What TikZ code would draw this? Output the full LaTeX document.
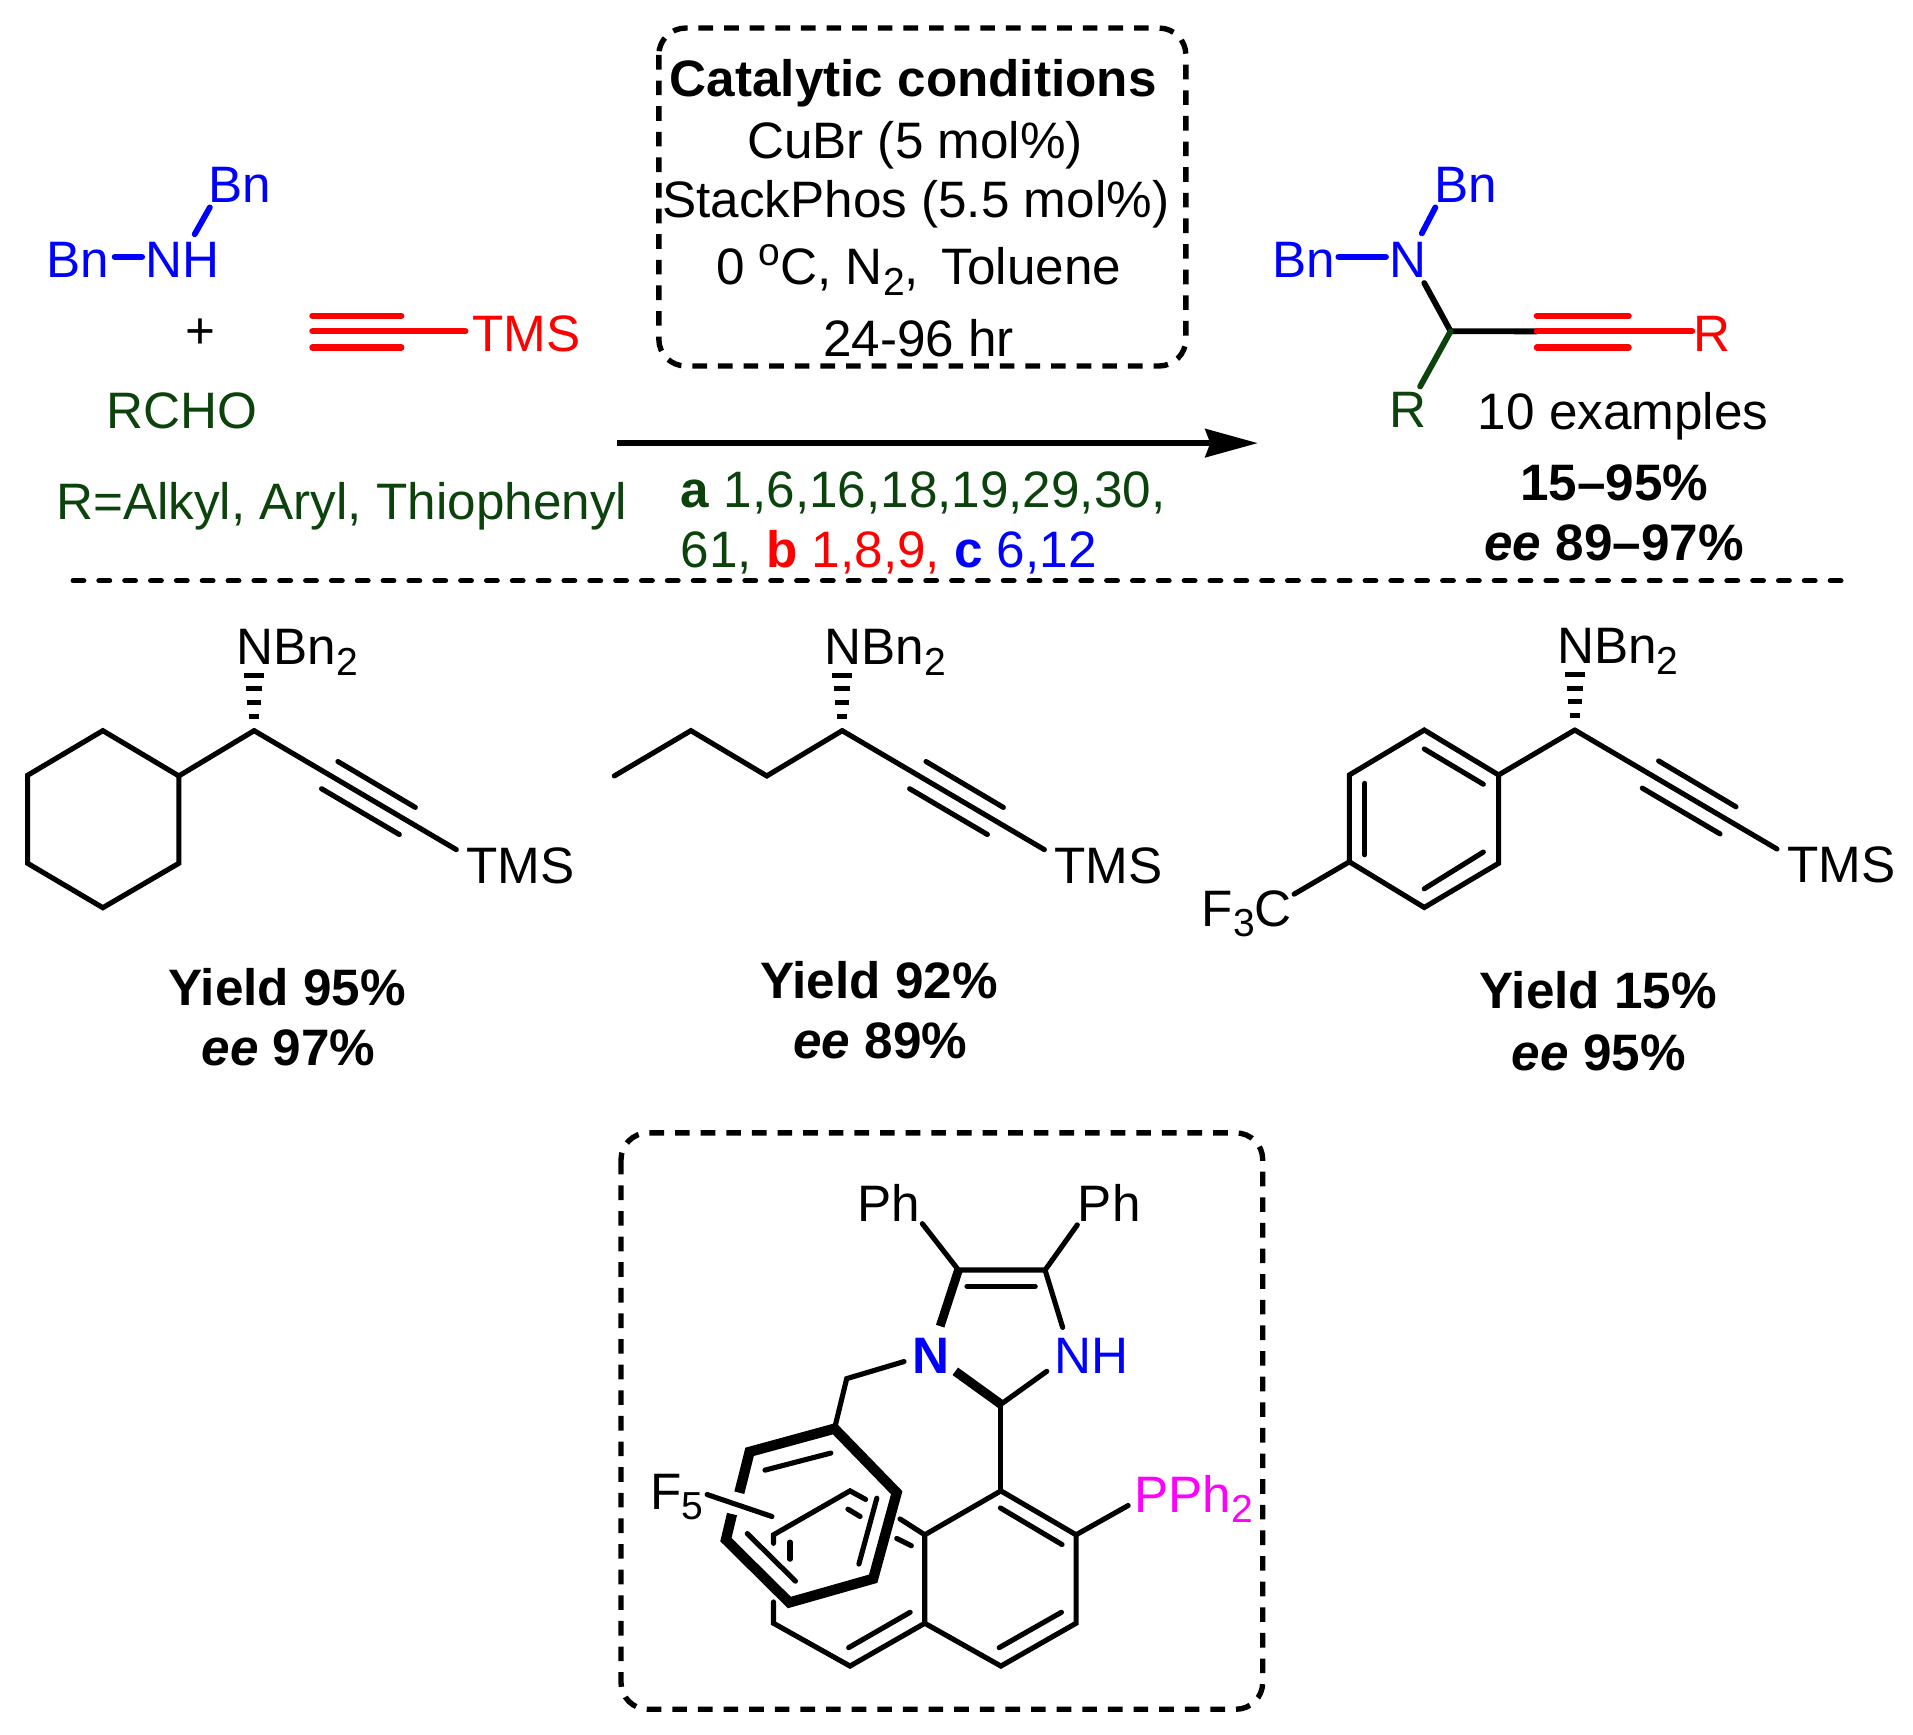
\documentclass[tikz,border=0pt]{standalone}
\usepackage{fontspec}
\setmainfont{Liberation Sans}
\usetikzlibrary{arrows.meta}
\definecolor{dgreen}{RGB}{12,66,12}
\definecolor{pblue}{RGB}{0,0,255}
\definecolor{pred}{RGB}{255,0,0}
\definecolor{pmag}{RGB}{255,0,255}
\newcommand{\subs}[1]{\raisebox{-0.21em}{\fontsize{16}{18}\selectfont #1}}
\newcommand{\supo}[1]{\raisebox{0.38em}{\fontsize{16}{18}\selectfont #1}}
\tikzset{
  txt/.style={inner sep=0pt,outer sep=0pt,anchor=base west,font=\fontsize{21}{24}\selectfont},
  txc/.style={txt,anchor=base},
  btxc/.style={txc,font=\fontsize{21}{24}\selectfont\bfseries},
  bond/.style={line width=2.1pt,line cap=round,line join=miter},
  thick bond/.style={bond,line width=4.2pt,line cap=butt,line join=miter},
  redbond/.style={bond,pred,line width=2.5pt},
  bluebond/.style={bond,pblue,line width=2.4pt},
  greenbond/.style={bond,dgreen},
  dashbox/.style={line width=2.2pt,rounded corners=11pt,dash pattern=on 6pt off 4.5pt},
  hash/.style={line width=2pt},
  rule/.style={line width=2.2pt,line cap=round,dash pattern=on 4.3pt off 6.29pt}
}
% side chain: #1 prefix, #2 x of stereocentre, #3 y of stereocentre
\newcommand{\sidechain}[3]{%
  \coordinate (#1c) at (#2,#3);
  \coordinate (#1e) at (#2+165.7,#3+97.5);
  \coordinate (#1ua) at (#2+68.7,#3+25.3);
  \coordinate (#1ub) at (#2+132.1,#3+62.9);
  \coordinate (#1la) at (#2+55.3,#3+47.6);
  \coordinate (#1lb) at (#2+119,#3+85.1);
  \draw[bond] (#1c) -- (#1e);
  \draw[bond] (#1ua) -- (#1ub);
  \draw[bond] (#1la) -- (#1lb);
  \draw[hash] (#2-8,#3-45.2) -- (#2+8,#3-45.2);
  \draw[hash] (#2-6.8,#3-34.4) -- (#2+6.8,#3-34.4);
  \draw[hash] (#2-5.7,#3-23.3) -- (#2+5.7,#3-23.3);
  \draw[hash] (#2-4.2,#3-11.8) -- (#2+4.2,#3-11.8);
  \node[txt] (#1nbn) at (#2-14.5,#3-54.3) {NBn\subs{2}};
  \node[txt] (#1tms) at (#2+174,#3+125) {TMS};
}
\begin{document}
\begin{tikzpicture}[x=0.5pt,y=-0.5pt]
\useasboundingbox (0,0) rectangle (1568,1422.1);

% ---------- reagents
\node[txt,pblue] (bnup) at (171,166) {Bn};
\node[txt,pblue] (bnlf) at (38,227.5) {Bn};
\node[txt,pblue] (nh) at (119.5,227.5) {NH};
\coordinate (a1) at (94,210.5); \coordinate (a2) at (116.5,210.5);
\coordinate (a3) at (172,170); \coordinate (a4) at (159.6,192);
\draw[bluebond] (a1) -- (a2);
\draw[bluebond] (a3) -- (a4);
\node[txc] (plus) at (164,285.5) {+};
\coordinate (t1) at (256,258.8); \coordinate (t2) at (329,258.8);
\coordinate (t3) at (256,271.6); \coordinate (t4) at (381.5,271.6);
\coordinate (t5) at (256,284.8); \coordinate (t6) at (329,284.8);
\draw[redbond] (t1) -- (t2);
\draw[redbond] (t3) -- (t4);
\draw[redbond] (t5) -- (t6);
\node[txt,pred] (tmsr) at (387,288.5) {TMS};
\node[txt,dgreen] (rcho) at (87,351) {RCHO};
\node[txt,dgreen] (rdef) at (46,426) {R=Alkyl, Aryl, Thiophenyl};

% ---------- conditions
\draw[dashbox] (540,23) rectangle (972,300);
\node[btxc] (c1) at (748.5,79.4) {Catalytic conditions};
\node[txc] (c2) at (750,130) {CuBr (5 mol\%)};
\node[txc] (c3) at (750.6,178.5) {StackPhos (5.5 mol\%)};
\node[txc] (c4) at (753,233.5) {0 \supo{o}C, N\subs{2},\, Toluene};
\node[txc] (c5) at (753,292.5) {24-96 hr};
\coordinate (ar1) at (506,363.2); \coordinate (ar2) at (1031,363.2);
\draw[line width=2.4pt,-{Stealth[length=21.5pt,width=11.5pt,inset=2pt]}] (ar1) -- (ar2);
\node[txt,dgreen] (ref1) at (558,416) {\textbf{a} 1,6,16,18,19,29,30,};
\node[txt] (ref2) at (558,465.5) {\textcolor{dgreen}{61, }\textcolor{pred}{\textbf{b} 1,8,9, }\textcolor{pblue}{\textbf{c} 6,12}};

% ---------- product
\node[txt,pblue] (pbnup) at (1176,166) {Bn};
\node[txt,pblue] (pbnlf) at (1043,227.5) {Bn};
\node[txt,pblue] (pn) at (1138.5,227.5) {N};
\coordinate (p1) at (1097,210.5); \coordinate (p2) at (1136,210.5);
\coordinate (p3) at (1176.5,170); \coordinate (p4) at (1165.4,191.3);
\coordinate (p5) at (1167.4,232); \coordinate (pc) at (1189,271.5);
\coordinate (p6) at (1164,316.8); \coordinate (p7) at (1259.6,271.6);
\coordinate (p8) at (1387,271.6);
\coordinate (p9) at (1259.6,258.8); \coordinate (p10) at (1335,258.8);
\coordinate (p11) at (1259.6,284.8); \coordinate (p12) at (1335,284.8);
\draw[bluebond] (p1) -- (p2);
\draw[bluebond] (p3) -- (p4);
\draw[bond,line width=2.4pt] (p5) -- (pc) -- (p7);
\draw[greenbond,line width=2.4pt] (pc) -- (p6);
\draw[redbond] (p7) -- (p8);
\draw[redbond] (p9) -- (p10);
\draw[redbond] (p11) -- (p12);
\node[txt,pred] (pr1) at (1388,288.5) {R};
\node[txt,dgreen] (pr2) at (1138.5,350.5) {R};
\node[txc] (pex) at (1330.5,352) {10 examples};
\node[btxc] (py) at (1323,410) {15–95\%};
\node[btxc] (pee) at (1323,459.2) {\textit{ee} 89–97\%};

% ---------- separator
\coordinate (s1) at (60,476); \coordinate (s2) at (1510,476);
\draw[rule] (s1) -- (s2);

% ---------- compound 1
\coordinate (h1) at (84.3,598.9); \coordinate (h2) at (146.6,636);
\coordinate (h3) at (146.6,707.6); \coordinate (h4) at (84.3,744);
\coordinate (h5) at (22.6,707.6); \coordinate (h6) at (22.6,635.5);
\draw[bond] (h1) -- (h2) -- (h3) -- (h4) -- (h5) -- (h6) -- cycle;
\sidechain{ma}{208.3}{598.9}
\draw[bond] (h2) -- (mac);
\node[btxc] (y1) at (235.5,824) {Yield 95\%};
\node[btxc] (e1) at (236.5,873.7) {\textit{ee} 97\%};

% ---------- compound 2
\sidechain{mb}{690.3}{598.9}
\coordinate (b1) at (503.5,636); \coordinate (b2) at (566.3,598.9); \coordinate (b3) at (628.5,636);
\draw[bond] (b1) -- (b2) -- (b3) -- (mbc);
\node[btxc] (y2) at (720.5,818.7) {Yield 92\%};
\node[btxc] (e2) at (721.5,868) {\textit{ee} 89\%};

% ---------- compound 3
\sidechain{mc}{1290.8}{598.4}
\coordinate (r1) at (1228.3,635.2); \coordinate (r2) at (1167.4,598.4);
\coordinate (r3) at (1106,635.2); \coordinate (r4) at (1106,706.4);
\coordinate (r5) at (1167.4,743.8); \coordinate (r6) at (1228.3,707.6);
\coordinate (r7) at (1060.7,732.9);
\draw[bond] (r1) -- (r2) -- (r3) -- (r4) -- (r5) -- (r6) -- cycle;
\draw[bond] (r1) -- (mcc);
\draw[bond] (r4) -- (r7);
\coordinate (i1) at (1167.4,613.9); \coordinate (i2) at (1215.8,642.8);
\coordinate (i3) at (1118.6,642.1); \coordinate (i4) at (1118.6,700.6);
\coordinate (i5) at (1215.8,698.4); \coordinate (i6) at (1167.4,728.5);
\draw[bond] (i1) -- (i2);
\draw[bond] (i3) -- (i4);
\draw[bond] (i5) -- (i6);
\node[txt] (f3c) at (985,759) {F\subs{3}C};
\node[btxc] (y3) at (1310,827) {Yield 15\%};
\node[btxc] (e3) at (1310.5,877.3) {\textit{ee} 95\%};

% ---------- ligand box
\draw[dashbox] (509,928.6) rectangle (1035,1401);
\node[txt] (ph1) at (703,1001.5) {Ph};
\node[txt] (ph2) at (883.5,1001.5) {Ph};
\node[txt,pblue,font=\fontsize{21}{24}\selectfont\bfseries] (nb) at (748,1126) {N};
\node[txt,pblue] (nhb) at (864.5,1126) {NH};
\node[txt,pmag] (pph) at (930,1239.5) {PPh\subs{2}};
\node[txt] (f5) at (533,1237) {F\subs{5}};
\coordinate (L4) at (785.6,1041); \coordinate (L5) at (856.6,1041);
\coordinate (Lp1) at (756,1003); \coordinate (Lp2) at (883,1004);
\coordinate (Ln1) at (770.6,1087); \coordinate (Ln2) at (871,1088);
\coordinate (Lc) at (820.4,1151); \coordinate (Ln3) at (783,1124); \coordinate (Ln4) at (858,1124);
\coordinate (Ld1) at (792.6,1054.3); \coordinate (Ld2) at (848.5,1054.3);
\draw[bond] (Lp1) -- (L4) -- (L5) -- (Lp2);
\draw[bond] (L5) -- (Ln2);
\draw[bond] (Ld1) -- (Ld2);
\draw[thick bond,line width=3.6pt] (L4) -- (Ln1);
\draw[thick bond,line width=3.8pt] (Lc) -- (Ln3);
\draw[bond] (Lc) -- (Ln4);
% naphthyl
\coordinate (N1) at (820.4,1222); \coordinate (N2) at (882,1258);
\coordinate (N3) at (882,1330.5); \coordinate (N4) at (820.4,1365.6);
\coordinate (N4a) at (758,1330.5); \coordinate (N8a) at (758,1258);
\coordinate (N5) at (696.7,1365.6); \coordinate (N6) at (634,1330.5);
\coordinate (N6e) at (634,1313); \coordinate (N7) at (634,1258); \coordinate (N7e) at (634,1265);
\coordinate (N8) at (696.7,1222); \coordinate (N8e) at (709.5,1229);
\coordinate (N9e) at (737.7,1245);
\coordinate (Lpp) at (924.7,1234);
\draw[bond] (Lc) -- (N1);
\draw[bond] (N8a) -- (N1) -- (N2) -- (N3) -- (N4) -- (N4a) -- (N8a) -- (N9e);
\draw[bond] (N2) -- (Lpp);
\draw[bond] (N4a) -- (N5) -- (N6) -- (N6e);
\draw[bond] (N7e) -- (N7) -- (N8) -- (N8e);
\coordinate (k1) at (820,1236); \coordinate (k2) at (870.5,1266);
\coordinate (k3) at (819,1350.5); \coordinate (k4) at (870,1321.5);
\coordinate (k5) at (695.6,1350.5); \coordinate (k6) at (746,1321.5);
\coordinate (k7) at (695,1237); \coordinate (k8) at (705,1243);
\coordinate (k9) at (735,1261); \coordinate (k10) at (747,1267);
\coordinate (k11) at (647.5,1264); \coordinate (k12) at (647.5,1278);
\draw[bond] (k1) -- (k2);
\draw[bond] (k3) -- (k4);
\draw[bond] (k5) -- (k6);
\draw[bond] (k7) -- (k8);
\draw[bond] (k9) -- (k10);
\draw[bond] (k11) -- (k12);
% benzyl
\coordinate (B1) at (741,1116); \coordinate (B2) at (694,1130); \coordinate (B3) at (684,1171);
\draw[bond] (B1) -- (B2) -- (B3);
\coordinate (R2) at (614.4,1190); \coordinate (R3) at (606,1223.5);
\coordinate (R4) at (600,1241); \coordinate (R5) at (595,1262);
\coordinate (R6) at (647,1313.5); \coordinate (R7) at (715.7,1294); \coordinate (R8) at (735,1223.5);
\draw[thick bond] (R3) -- (R2) -- (B3) -- (R8) -- (R7) -- (R6) -- (R5) -- (R4);
\coordinate (q1) at (627,1205); \coordinate (q2) at (681,1191);
\coordinate (q3) at (612.5,1257); \coordinate (q4) at (652,1296);
\coordinate (q5) at (718.7,1228); \coordinate (q6) at (704,1282);
\draw[bond] (q1) -- (q2);
\draw[bond] (q3) -- (q4);
\draw[bond] (q5) -- (q6);
\coordinate (f1) at (579.6,1225); \coordinate (f2) at (632.7,1243);
\draw[bond] (f1) -- (f2);
\end{tikzpicture}
\end{document}
